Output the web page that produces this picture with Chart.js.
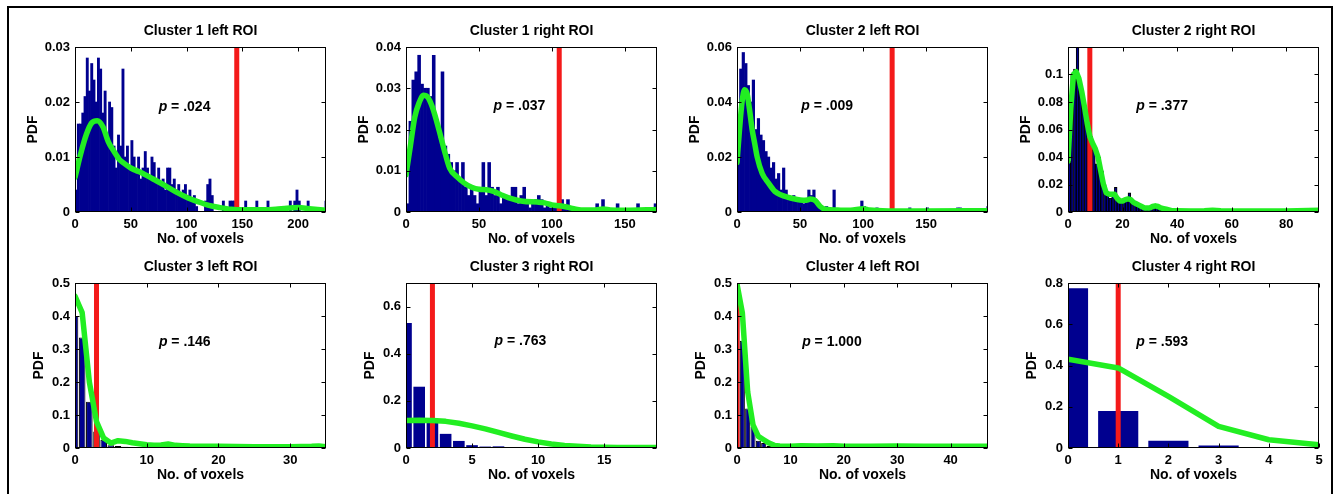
<!DOCTYPE html>
<html>
<head>
<meta charset="utf-8">
<script src="https://cdn.jsdelivr.net/npm/chart.js@4.4.0/dist/chart.umd.min.js"></script>
<style>
  body { margin: 0; background: #fff; width: 1335px; height: 494px; overflow: hidden; position: relative; }
  #frame { position: absolute; left: 7px; top: 6px; width: 1326px; height: 600px; border: 2px solid #000; box-sizing: border-box; }
  canvas { position: absolute; }
</style>
</head>
<body>
<div id="frame"></div>
<div id="panels"></div>
<script>
// permutation histograms of surviving voxel counts, one panel per ROI
const titles = ['Cluster 1 left ROI', 'Cluster 1 right ROI', 'Cluster 2 left ROI', 'Cluster 2 right ROI',
                'Cluster 3 left ROI', 'Cluster 3 right ROI', 'Cluster 4 left ROI', 'Cluster 4 right ROI'];
const pValues = ['.024', '.037', '.009', '.377', '.146', '.763', '1.000', '.593'];
const observed = [145, 105, 123, 8, 3, 2, 0, 1];

const xMax = [225, 172, 199, 92, 35, 19, 47, 5];
const yMax = [0.03, 0.04, 0.06, 0.12, 0.5, 0.7, 0.5, 0.8];
const xTicks = [[0, 50, 100, 150, 200], [0, 50, 100, 150], [0, 50, 100, 150], [0, 20, 40, 60, 80],
                [0, 10, 20, 30], [0, 5, 10, 15], [0, 10, 20, 30, 40], [0, 1, 2, 3, 4, 5]];
const yTicks = [[0, 0.01, 0.02, 0.03], [0, 0.01, 0.02, 0.03, 0.04], [0, 0.02, 0.04, 0.06],
                [0, 0.02, 0.04, 0.06, 0.08, 0.1], [0, 0.1, 0.2, 0.3, 0.4, 0.5], [0, 0.2, 0.4, 0.6],
                [0, 0.1, 0.2, 0.3, 0.4, 0.5], [0, 0.2, 0.4, 0.6, 0.8]];

// bins: width and centre of the first one
const binWidth = [2, 2, 2, 1, 1, 1, 1, 1];
const firstBin = [1, 1, 1, 0.5, 0, 0, 0, 0];

const hist1 = [
  0.004, 0.016, 0.016, 0.018, 0.021, 0.028, 0.022, 0.027, 0.024, 0.020,
  0.028, 0.026, 0.018, 0.022, 0.014, 0.020, 0.019, 0.012, 0.008, 0.014,
  0.012, 0.026, 0.010, 0.012, 0.008, 0.013, 0.010, 0.007, 0.010, 0.006,
  0.008, 0.011, 0.008, 0.006, 0.010, 0.009, 0.006, 0.008, 0.005, 0.006,
  0.004, 0.008, 0.008, 0.005, 0.006, 0.004, 0.005, 0.003, 0.004, 0.005,
  0.003, 0.004, 0.002, 0.003, 0.001, 0, 0, 0, 0.002, 0.005,
  0.006, 0.003, 0, 0, 0, 0, 0.002, 0, 0, 0.002,
  0.002, 0.002, 0.002, 0, 0, 0, 0.002, 0, 0, 0,
  0, 0.002, 0, 0, 0, 0, 0.002, 0, 0, 0,
  0, 0, 0, 0, 0, 0, 0.002, 0, 0.002, 0.004,
  0.002, 0, 0, 0, 0.002, 0, 0, 0, 0, 0,
  0, 0, 0.002];
const hist2 = [
  0.002, 0.022, 0.032, 0.034, 0.038, 0.031, 0.030, 0.030, 0.028, 0.038,
  0.022, 0.018, 0.034, 0.016, 0.014, 0.012, 0.010, 0.012, 0.008, 0.012,
  0.006, 0.004, 0.006, 0.004, 0.002, 0.006, 0.012, 0.004, 0.012, 0.006,
  0.004, 0.006, 0.002, 0.004, 0.004, 0.003, 0.006, 0.006, 0.002, 0.004,
  0.006, 0.002, 0.001, 0.002, 0.003, 0.004, 0.003, 0.001, 0.002, 0.001,
  0.001, 0.002, 0, 0.003, 0.001, 0.003, 0.001, 0.001, 0.001, 0,
  0, 0, 0, 0, 0, 0.002, 0, 0.003, 0.001, 0,
  0, 0, 0.002, 0, 0, 0, 0, 0, 0, 0.002,
  0, 0, 0, 0, 0, 0.002];
const hist3 = [
  0.018, 0.052, 0.058, 0.054, 0.046, 0.040, 0.048, 0.030, 0.034, 0.028,
  0.026, 0.022, 0.020, 0.016, 0.018, 0.012, 0.014, 0.008, 0.016, 0.008,
  0.006, 0.005, 0.006, 0.004, 0.005, 0.004, 0.003, 0.005, 0.008, 0.006,
  0.008, 0.004, 0.003, 0.002, 0.001, 0.002, 0.001, 0, 0.008, 0.001,
  0.001, 0.001, 0.001, 0.001, 0, 0, 0, 0, 0, 0.004,
  0.002, 0, 0, 0, 0, 0.0015, 0, 0, 0, 0,
  0, 0, 0, 0, 0, 0, 0, 0, 0.0015, 0,
  0, 0, 0, 0, 0, 0.0015, 0, 0, 0, 0,
  0, 0, 0, 0, 0, 0, 0, 0.0015, 0.0015, 0,
  0, 0, 0, 0, 0, 0, 0, 0, 0, 0.002];
const hist4 = [
  0.037, 0.100, 0.104, 0.130, 0.090, 0.085, 0.075, 0.065, 0.055, 0.045,
  0.035, 0.040, 0.030, 0.020, 0.012, 0.010, 0.012, 0.018, 0.010, 0.008,
  0.008, 0.010, 0.014, 0.008, 0.006, 0.006, 0.004, 0.003, 0.003, 0.003,
  0.002, 0.003, 0.004, 0.003, 0.002, 0.001, 0.001, 0.001, 0.0005, 0,
  0, 0, 0, 0, 0, 0, 0, 0, 0, 0,
  0, 0, 0, 0, 0, 0, 0, 0, 0, 0,
  0, 0, 0, 0, 0, 0, 0, 0, 0, 0,
  0, 0, 0, 0, 0, 0, 0, 0, 0, 0,
  0, 0, 0, 0, 0, 0, 0, 0, 0, 0,
  0, 0.001];
const hist5 = [0.40, 0.335, 0.14, 0.05, 0.025, 0.008, 0.006, 0.004, 0.002, 0.001];
const hist6 = [0.53, 0.26, 0.11, 0.06, 0.03, 0.012, 0.006, 0.007, 0, 0.003, 0.001];
const hist7 = [0.49, 0.325, 0.12, 0.065, 0.022, 0.015, 0.006, 0.003, 0.001];
const hist8 = [0.775, 0.18, 0.035, 0.012, 0.003, 0.003];

// kernel density estimates of the null distribution
const kdeX1 = [0, 5, 10, 15, 20, 25, 30, 35, 40, 45, 50, 60, 70, 80, 90, 100, 110, 120, 130, 140, 150, 160, 170, 180, 190, 200, 210, 225];
const kdeY1 = [0.0063, 0.0105, 0.014, 0.0162, 0.0166, 0.0155, 0.0127, 0.011, 0.0095, 0.0087, 0.008, 0.0071, 0.006, 0.0049, 0.0037, 0.0027, 0.0019, 0.0012, 0.0008, 0.0005, 0.0004, 0.0004, 0.0004, 0.0005, 0.0007, 0.0008, 0.0006, 0.0003];
const kdeX2 = [0, 3, 6, 9, 12, 15, 18, 21, 24, 27, 30, 35, 40, 45, 50, 55, 60, 65, 70, 80, 90, 95, 100, 105, 110, 115, 120, 130, 135, 140, 150, 172];
const kdeY2 = [0.009, 0.016, 0.023, 0.0265, 0.0283, 0.0278, 0.0255, 0.022, 0.018, 0.014, 0.0106, 0.0085, 0.007, 0.006, 0.0055, 0.0054, 0.005, 0.0042, 0.0035, 0.0026, 0.0024, 0.0022, 0.0017, 0.0015, 0.0012, 0.0008, 0.0005, 0.0005, 0.0007, 0.0005, 0.0004, 0.0006];
const kdeX3 = [0, 2, 4, 6, 8, 10, 12, 14, 16, 20, 25, 30, 35, 40, 45, 50, 55, 58, 62, 66, 70, 80, 90, 100, 105, 120, 150, 199];
const kdeY3 = [0.018, 0.03, 0.04, 0.0445, 0.043, 0.037, 0.030, 0.025, 0.020, 0.014, 0.0105, 0.0075, 0.0062, 0.0054, 0.0048, 0.0044, 0.0043, 0.0047, 0.0042, 0.002, 0.001, 0.0007, 0.0006, 0.0012, 0.0007, 0.0004, 0.0004, 0.0005];
const kdeX4 = [0, 1, 2, 3, 4, 5, 6, 7, 8, 9, 10, 11, 12, 13, 14, 15, 16, 17, 18, 19, 20, 21, 22, 23, 24, 25, 26, 27, 28, 29, 30, 31, 32, 33, 34, 35, 36, 37, 38, 40, 45, 50, 53, 56, 60, 70, 80, 92];
const kdeY4 = [0.037, 0.075, 0.100, 0.102, 0.097, 0.088, 0.077, 0.065, 0.055, 0.050, 0.046, 0.040, 0.030, 0.020, 0.014, 0.013, 0.013, 0.013, 0.010, 0.008, 0.008, 0.009, 0.0095, 0.009, 0.007, 0.006, 0.005, 0.004, 0.003, 0.003, 0.003, 0.004, 0.0045, 0.004, 0.003, 0.0025, 0.002, 0.0015, 0.001, 0.001, 0.0008, 0.0009, 0.0013, 0.0009, 0.0008, 0.0008, 0.0008, 0.0012];
const kdeX5 = [0, 1, 2, 3, 4, 5, 6, 7, 8, 9, 10, 11, 12, 13, 14, 15, 16, 20, 25, 30, 33, 34, 35];
const kdeY5 = [0.46, 0.41, 0.20, 0.08, 0.03, 0.015, 0.022, 0.02, 0.016, 0.013, 0.01, 0.008, 0.009, 0.012, 0.008, 0.007, 0.006, 0.005, 0.004, 0.004, 0.005, 0.006, 0.004];
const kdeX6 = [0, 1, 2, 3, 4, 5, 6, 7, 8, 9, 10, 11, 12, 13, 14, 15, 16, 17, 19];
const kdeY6 = [0.117, 0.118, 0.117, 0.113, 0.105, 0.094, 0.081, 0.066, 0.051, 0.037, 0.026, 0.017, 0.011, 0.007, 0.004, 0.003, 0.002, 0.002, 0.002];
const kdeX7 = [0, 1, 2, 3, 4, 5, 6, 7, 8, 9, 10, 12, 15, 18, 20, 25, 30, 35, 40, 47];
const kdeY7 = [0.497, 0.41, 0.17, 0.07, 0.035, 0.025, 0.015, 0.008, 0.006, 0.005, 0.005, 0.007, 0.006, 0.007, 0.005, 0.005, 0.006, 0.005, 0.005, 0.005];
const kdeX8 = [0, 1, 2, 3, 4, 5];
const kdeY8 = [0.431, 0.388, 0.25, 0.105, 0.04, 0.016];

const hists = [hist1, hist2, hist3, hist4, hist5, hist6, hist7, hist8];
const kdeXs = [kdeX1, kdeX2, kdeX3, kdeX4, kdeX5, kdeX6, kdeX7, kdeX8];
const kdeYs = [kdeY1, kdeY2, kdeY3, kdeY4, kdeY5, kdeY6, kdeY7, kdeY8];

// where the "p = ..." text sits, in axis units
const pTextAt = [[75, 0.0191], [60, 0.0256], [51, 0.0384], [25, 0.0768],
                 [11.7, 0.322], [6.7, 0.452], [12.2, 0.322], [1.36, 0.515]];

// page layout (px) and per-panel styling
const colLeft = [75, 406, 737, 1068];
const rowTop = [47, 283];
const plotW = 251, plotH = 165;
const yAxisW = 50, xAxisH = 37, titleH = 30, padRight = 10;
const barEdge = [0, 0, 0, 1, 1, 0, 1, 0];
const barFrac = [1, 1, 1, 1, 0.92, 0.88, 0.95, 0.8];
const smooth = [true, true, true, false, false, false, false, false];

const FONT = "'Liberation Sans', Arial, Helvetica, sans-serif";
const NAVY = '#00008f', GREEN = '#22ee22', RED = '#f41a1a';

const fmt = v => String(+v.toFixed(3));

// MATLAB-style box with inward ticks on all sides, plus the p-value text
const boxPlugin = {
  id: 'box',
  afterDatasetsDraw(chart) {
    const { ctx, chartArea: a, scales: { x, y } } = chart;
    const k = chart.options.plugins.box.index;
    const L = Math.round(a.left) + 0.5, R = Math.round(a.right) - 0.5;
    const T = Math.round(a.top) + 0.5, B = Math.round(a.bottom) - 0.5;
    ctx.save();
    ctx.strokeStyle = '#000';
    ctx.lineWidth = 1;
    ctx.beginPath();
    x.ticks.forEach(t => {
      const px = Math.round(x.getPixelForValue(t.value)) + 0.5;
      ctx.moveTo(px, B); ctx.lineTo(px, B - 4);
      ctx.moveTo(px, T); ctx.lineTo(px, T + 4);
    });
    y.ticks.forEach(t => {
      const py = Math.round(y.getPixelForValue(t.value)) + 0.5;
      ctx.moveTo(L, py); ctx.lineTo(L + 4, py);
      ctx.moveTo(R, py); ctx.lineTo(R - 4, py);
    });
    ctx.stroke();
    ctx.strokeRect(L, T, R - L, B - T);

    const tx = x.getPixelForValue(pTextAt[k][0]);
    const ty = y.getPixelForValue(pTextAt[k][1]);
    ctx.fillStyle = '#000';
    ctx.textBaseline = 'middle';
    ctx.textAlign = 'left';
    ctx.font = 'italic bold 14px ' + FONT;
    ctx.fillText('p', tx, ty);
    const w = ctx.measureText('p').width;
    ctx.font = 'bold 14px ' + FONT;
    ctx.fillText(' = ' + pValues[k], tx + w, ty);
    ctx.restore();
  }
};

const holder = document.getElementById('panels');

titles.forEach((title, k) => {
  const col = k % 4, row = Math.floor(k / 4);
  const canvas = document.createElement('canvas');
  canvas.width = yAxisW + plotW + padRight;
  canvas.height = titleH + plotH + xAxisH;
  canvas.style.left = (colLeft[col] - yAxisW) + 'px';
  canvas.style.top = (rowTop[row] - titleH) + 'px';
  holder.appendChild(canvas);

  const bars = hists[k].map((v, i) => ({ x: firstBin[k] + i * binWidth[k], y: v }));
  const curve = kdeXs[k].map((v, i) => ({ x: v, y: kdeYs[k][i] }));
  const redLine = [{ x: observed[k], y: 0 }, { x: observed[k], y: yMax[k] }];

  new Chart(canvas, {
    type: 'bar',
    data: {
      datasets: [
        {
          type: 'line', data: curve, order: 0, clip: 0,
          borderColor: GREEN, borderWidth: 5.5, pointRadius: 0,
          borderJoinStyle: 'round', borderCapStyle: 'round',
          tension: smooth[k] ? 0.4 : 0,
          cubicInterpolationMode: smooth[k] ? 'monotone' : 'default'
        },
        {
          type: 'line', data: redLine, order: 1, clip: 0,
          borderColor: RED, borderWidth: 5, pointRadius: 0, borderCapStyle: 'butt'
        },
        {
          type: 'bar', data: bars, order: 2, clip: 0,
          backgroundColor: NAVY, borderColor: '#000', borderWidth: barEdge[k],
          categoryPercentage: 1, barPercentage: barFrac[k], grouped: false
        }
      ]
    },
    options: {
      responsive: false,
      animation: false,
      events: [],
      layout: { padding: { right: padRight } },
      plugins: {
        legend: { display: false },
        tooltip: { enabled: false },
        title: {
          display: true, text: title, color: '#000', fullSize: false,
          font: { family: FONT, size: 14, weight: 'bold' },
          padding: { top: 5.3, bottom: 7.9 }
        },
        box: { index: k }
      },
      scales: {
        x: {
          type: 'linear', min: 0, max: xMax[k], offset: false,
          grid: { display: false, drawTicks: false, offset: false },
          border: { display: false },
          ticks: {
            color: '#000', padding: 4.5, autoSkip: false, maxRotation: 0,
            font: { family: FONT, size: 13, weight: 'bold' }, callback: fmt
          },
          afterBuildTicks: s => { s.ticks = xTicks[k].map(v => ({ value: v })); },
          afterFit: s => { s.height = xAxisH; },
          title: {
            display: true, text: 'No. of voxels', color: '#000',
            font: { family: FONT, size: 14, weight: 'bold' }, padding: { top: 0, bottom: 1 }
          }
        },
        y: {
          type: 'linear', min: 0, max: yMax[k],
          grid: { display: false, drawTicks: false },
          border: { display: false },
          ticks: {
            color: '#000', padding: 5,
            font: { family: FONT, size: 13, weight: 'bold' }, callback: fmt
          },
          afterBuildTicks: s => { s.ticks = yTicks[k].map(v => ({ value: v })); },
          afterFit: s => { s.width = yAxisW; },
          title: {
            display: true, text: 'PDF', color: '#000',
            font: { family: FONT, size: 14, weight: 'bold' },
            padding: { top: row === 0 ? 0 : 6, bottom: 0 }
          }
        }
      }
    },
    plugins: [boxPlugin]
  });
});
</script>
</body>
</html>
